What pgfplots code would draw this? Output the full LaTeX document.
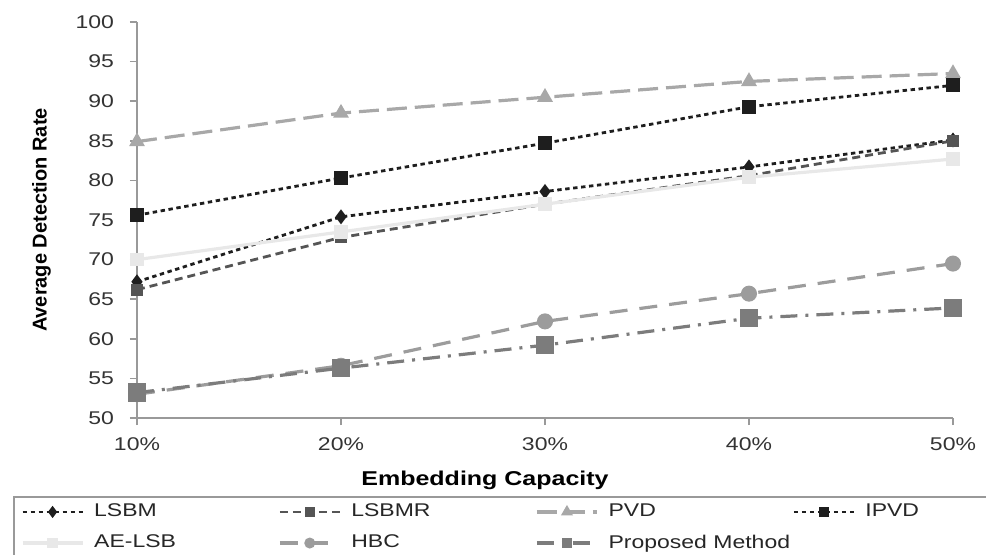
\documentclass[border=0pt]{standalone}
\usepackage{pgfplots}
\pgfplotsset{compat=1.18}
\usepackage{fontspec}
\setmainfont{Liberation Sans}
\usepackage{graphicx}
\newcommand{\sx}[1]{\scalebox{1.25}[1]{#1}}
\newcommand{\lgt}[1]{\makebox[92pt][l]{\sx{#1}}}
\definecolor{cBlack}{HTML}{1E1E1E}
\definecolor{cLSBMR}{HTML}{555555}
\definecolor{cPVD}{HTML}{A8A8A8}
\definecolor{cAE}{HTML}{E8E8E8}
\definecolor{cHBC}{HTML}{9C9C9C}
\definecolor{cProp}{HTML}{7C7C7C}
\definecolor{cAxis}{HTML}{999999}
\begin{document}
\begin{tikzpicture}
\clip (-68.5pt,-68pt) rectangle (424.5pt,209pt);
\begin{axis}[
  at={(0,0)}, anchor=south west,
  scale only axis, width=408pt, height=198pt,
  xmin=0, xmax=4, ymin=50, ymax=100,
  clip=false,
  axis lines*=left,
  axis line style={-, draw=cAxis, line width=1pt},
  xtick={0,1,2,3,4},
  xticklabels={\sx{10\%},\sx{20\%},\sx{30\%},\sx{40\%},\sx{50\%}},
  ytick={50,55,...,100},
  yticklabels={\sx{50},\sx{55},\sx{60},\sx{65},\sx{70},\sx{75},\sx{80},\sx{85},\sx{90},\sx{95},\sx{100}},
  tick align=outside,
  major tick length=3.5pt,
  tick style={draw=cAxis, line width=0.8pt},
  ticklabel style={font=\fontsize{9.2}{10}\selectfont, text=black!80},
  xticklabel style={yshift=-3pt},
  yticklabel style={xshift=-4.5pt},
  xlabel={\sx{\textbf{Embedding Capacity}}},
  ylabel={\textbf{Average Detection Rate}},
  label style={font=\fontsize{10}{12}\selectfont},
  xlabel style={at={(axis description cs:0.4265,-0.1566)}, anchor=center},
  ylabel style={at={(axis description cs:-0.117,0.5)}, anchor=center},
  legend columns=4,
  legend cell align=left,
  legend image code/.code={\draw[mark repeat=2,mark phase=2, mark size=1.9pt] plot coordinates {(0pt,0pt) (15pt,0pt) (30pt,0pt)};},
  legend style={
    at={(-0.152,-0.197)}, anchor=north west,
    draw=cAxis, line width=1pt,
    inner xsep=3.5pt, inner ysep=3.5pt,
    font=\fontsize{9.2}{11}\selectfont,
    text=black!85,
    nodes={inner sep=0pt},
    row sep=7.5pt,
    column sep=0pt,
    /tikz/every odd column/.append style={column sep=5pt},
  },
]
% LSBM
\addplot[color=cBlack, line width=1.4pt, dash pattern=on 2.2pt off 1.8pt,
  mark=diamond*, mark size=2.6pt, mark options={solid, fill=cBlack}]
  coordinates {(0,67.2) (1,75.4) (2,78.6) (3,81.7) (4,85.1)};
\addlegendentry{\lgt{LSBM}}
% LSBMR
\addplot[color=cLSBMR, line width=1.4pt, dash pattern=on 4pt off 2.5pt,
  mark=square*, mark size=2.3pt, mark options={solid, fill=cLSBMR}]
  coordinates {(0,66.2) (1,72.8) (2,77.0) (3,80.6) (4,85.0)};
\addlegendentry{\lgt{LSBMR}}
% PVD
\addplot[color=cPVD, line width=1.6pt, dash pattern=on 10pt off 4pt,
  mark=triangle*, mark size=3pt, mark options={solid, fill=cPVD}]
  coordinates {(0,84.9) (1,88.5) (2,90.5) (3,92.5) (4,93.5)};
\addlegendentry{\lgt{PVD}}
% IPVD
\addplot[color=cBlack, line width=1.4pt, dash pattern=on 2.2pt off 1.8pt,
  mark=square*, mark size=2.8pt, mark options={solid, fill=cBlack}]
  coordinates {(0,75.6) (1,80.3) (2,84.7) (3,89.3) (4,92.0)};
\addlegendentry{\lgt{IPVD}}
% AE-LSB
\addplot[color=cAE, line width=1.6pt,
  mark=square*, mark size=2.6pt, mark options={solid, fill=cAE}]
  coordinates {(0,70.0) (1,73.5) (2,77.0) (3,80.4) (4,82.7)};
\addlegendentry{\lgt{AE-LSB}}
% HBC
\addplot[color=cHBC, line width=1.6pt, dash pattern=on 9pt off 6pt,
  mark=*, mark size=3.2pt, mark options={solid, fill=cHBC}]
  coordinates {(0,53.0) (1,56.6) (2,62.2) (3,65.7) (4,69.5)};
\addlegendentry{\lgt{HBC}}
% Proposed
\addplot[color=cProp, line width=1.6pt, dash pattern=on 8.5pt off 4pt on 1.5pt off 4pt,
  mark=square*, mark size=3.8pt, mark options={solid, fill=cProp}]
  coordinates {(0,53.2) (1,56.3) (2,59.2) (3,62.6) (4,63.9)};
\addlegendentry{\lgt{Proposed Method}}
\end{axis}
\end{tikzpicture}
\end{document}
